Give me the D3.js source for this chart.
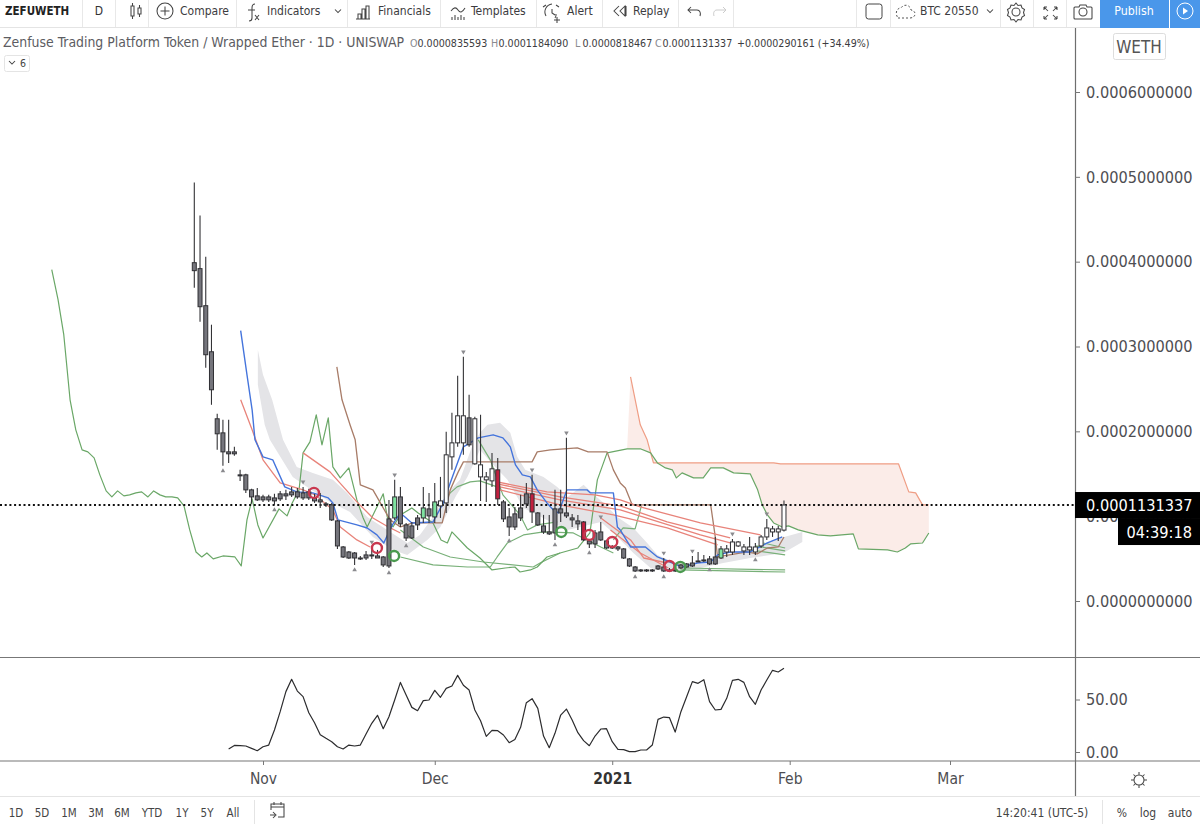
<!DOCTYPE html>
<html><head><meta charset="utf-8">
<script src="https://cdn.jsdelivr.net/npm/d3@7"></script>
<style>html,body{margin:0;padding:0;background:#fff;overflow:hidden}svg{display:block}text{font-family:"DejaVu Sans Condensed","DejaVu Sans",sans-serif}</style>
</head><body><svg id="c" width="1200" height="826"></svg>
<script>
// Prices are in units of 0.0001 WETH. Bars are daily, bar 0 = 20 Oct 2020.
const candleOpen=[3.988,3.918,3.481,2.938,2.148,1.982,1.758,1.758,1.487,1.487,1.310,1.239,1.227,1.227,1.215,1.263,1.263,1.286,1.286,1.274,1.286,1.215,1.192,1.145,1.133,.944,.637,.578,.566,.507,.543,.543,.531,.519,.968,.979,1.227,.897,.885,.979,.979,1.086,.991,1.121,1.156,1.699,1.864,1.864,2.159,1.617,1.463,1.428,1.416,1.546,1.168,.991,1.027,1.097,1.263,1.263,1.038,.885,.814,1.086,1.086,1.038,.979,.944,.932,.708,.802,.814,.708,.637,.637,.614,.496,.401,.366,.366,.366,.413,.401,.366,.366,.425,.437,.448,.472,.484,.496,.519,.507,.578,.578,.649,.590,.602,.578,.649,.755,.814,.814,.8356];
const candleClose=[3.894,3.469,2.903,2.490,1.971,1.758,1.735,1.735,1.475,1.310,1.227,1.192,1.192,1.192,1.180,1.204,1.239,1.251,1.227,1.215,1.215,1.180,1.168,1.133,.956,.649,.519,.507,.507,.496,.507,.531,.507,.425,.413,1.227,.909,.743,.743,.897,1.097,1.003,1.168,1.180,1.723,1.864,2.183,2.183,1.841,2.148,1.605,1.463,1.558,1.204,.968,.873,.873,.979,1.145,1.050,.897,.814,.791,.802,1.038,1.003,.956,.909,.720,.673,.673,.720,.625,.625,.614,.507,.413,.354,.354,.354,.354,.378,.354,.354,.354,.389,.401,.413,.460,.472,.437,.437,.614,.614,.696,.696,.637,.637,.637,.755,.861,.850,.850,1.131337];
const candleHigh=[4.932,4.543,4.059,3.257,2.207,2.136,2.136,1.817,1.546,1.499,1.322,1.333,1.251,1.251,1.263,1.298,1.310,1.345,1.333,1.345,1.322,1.263,1.274,1.168,1.156,.956,.649,.590,.578,.531,.590,.637,.602,.531,1.192,1.428,1.345,.920,.932,1.015,1.345,1.274,1.392,1.463,1.994,2.218,2.655,2.879,2.431,2.171,2.195,1.522,1.746,1.687,1.192,1.097,1.109,1.251,1.392,1.487,1.050,1.015,1.015,1.310,1.310,1.923,1.027,1.015,.944,.732,.838,.932,.720,.661,.649,.625,.507,.413,.378,.378,.378,.425,.507,.389,.378,.437,.448,.531,.578,.543,.531,.755,.649,.661,.732,.708,.673,.755,.684,.779,.968,.885,.885,1.18409];
const candleLow=[3.693,3.292,2.749,2.313,1.782,1.593,1.628,1.711,1.416,1.274,1.145,1.180,1.168,1.168,1.133,1.180,1.192,1.227,1.204,1.192,1.192,1.156,1.097,1.109,.944,.614,.507,.496,.425,.484,.484,.496,.507,.401,.389,.956,.873,.708,.732,.838,.920,.920,.920,.979,1.038,1.546,1.817,1.723,1.817,1.605,1.180,1.168,1.345,1.133,.932,.767,.838,.944,1.097,.920,.885,.791,.779,.720,.932,.979,.873,.838,.708,.625,.625,.708,.614,.614,.590,.496,.401,.342,.342,.342,.342,.366,.342,.342,.342,.378,.389,.401,.460,.460,.425,.425,.496,.519,.543,.637,.543,.543,.543,.625,.720,.755,.708,.818467];
const greenBars=[35,40,42,92];
const redBars=[53,59,68];
const fractalAbove=[19,31,35,47,59,65,71,82,87,94,100];
const fractalBelow=[5,14,28,34,37,55,63,69,77,82,90,98];

const laggingBar=[-24.9,-23.8,-22.8,-21.7,-20.7,-19.6,-18.6,-17.5,-16.5,-15.4,-14.4,-13.4,-12.3,-11.3,-10.2,-9.2,-8.1,-7.1,-6,-5,-3.9,-2.9,-1.8,-.8,.3,1.3,2.2,3.3,5,7.1,8.2,9.2,10.1,11.1,12,14.8,16.2,17.1,18.3,19,20.2,21.3,22.3,23.4,24.2,25.5,27,28.4,29.5,30.2,31.9,33,33.7,34.7,36,38,39.1,41.7,43.1,44.2,45,47.7,49.9,52,54.3,56,56.9,58.7,59.9,61.6,63.9,67,69.1,70.4,72.1,75.6,77.9,79.7,80.9,82.3,83.5,84.2,85.2,87.2,88.9,90.2,92.4,94.2,97.1,98.4,99.2,100.1,101.2,102.7,103.8,105.5,108.9,111.1,115.1,116,121.1,122.8,124.2,125.1,127.2,128.3];
const laggingVal=[3.906,3.552,3.139,2.372,2.018,1.782,1.758,1.687,1.487,1.298,1.227,1.298,1.239,1.251,1.274,1.286,1.227,1.298,1.251,1.227,1.227,1.215,1.121,.838,.578,.519,.566,.496,.531,.519,.413,.956,1.204,.897,.743,1.086,1.003,1.156,1.310,1.746,1.876,2.195,1.841,2.159,1.581,1.451,1.569,1.192,.979,.873,1.109,1.263,.991,.873,1.015,1.097,1.038,.920,.720,.684,.814,.625,.507,.366,.389,.401,.342,.366,.401,.519,.566,.625,.802,1.428,1.746,1.794,1.794,1.746,1.628,1.569,1.546,1.451,1.510,1.451,1.451,1.569,1.569,1.510,1.499,1.310,1.133,1.015,.920,.873,.885,.838,.779,.767,.791,.614,.602,.578,.625,.673,.684,.802];
const spanBar=[76.2,77.9,79.1,80.2,101.2,102.4,123,124.8,126,127.2,128.3];
const spanVal=[2.643,2.077,1.900,1.628,1.628,1.617,1.617,1.286,1.274,1.133,1.133];

const bandTopBar=[11.1,12,13.6,15.5,17.9,20.7,24.2,26.7,30.2,33.7,37.2,39.4,41.7,44.2,46.4,48.5,49.9,51.2,53.4,55.2,56.4,57.8,61,63.4,65.2,68,69.5,71.5,73.9,76.7,79.1,80.9,83.7,86.7,90.2,94.2,97.1,102.4,106.2];
const bandTopVal=[2.962,2.667,2.372,1.900,1.581,1.510,1.428,1.274,.991,.838,.684,.779,.991,1.274,1.428,1.817,1.982,2.077,2.100,1.982,1.699,1.546,1.463,1.345,1.227,1.369,1.274,1.156,.991,.861,.684,.543,.460,.425,.448,.566,.625,.743,.814];
const bandLowBar=[11.1,12.3,13.2,17.2,19.7,23.7,27.2,31.2,34.7,37.2,40.7,43,45.6,47.7,49.9,51.7,54.7,57.5,59.2,61.6,65.2,71,73.2,76.7,79.7,82.6,88.4,92.4,97.1,102.9,106.2];
const bandLowVal=[2.549,2.077,1.900,1.463,1.345,1.168,1.050,.755,.602,.543,.720,.873,1.227,1.463,1.782,1.640,1.428,1.097,1.038,.956,.838,.932,.802,.566,.389,.342,.389,.448,.507,.566,.696];

const blueBar=[8.1,9.2,10.1,10.6,12,13.7,15.8,17.9,20.7,23.4,24.2,25.1,28.4,30.2,31.9,33.1,33.9,34.6,36,38,41.7,43.5,44.7,47,49.6,52.2,53.9,55.2,56.1,57.3,58.7,59.9,61.6,62.7,63.6,65.1,68.6,69.2,73.2,73.9,74.4,76.2,78.8,80.9,83.1,85.2,87.9,90.2,91.4,93.6,97.1,100.1,102.7];
const blueVal=[3.186,2.667,2.254,1.900,1.699,1.664,1.345,1.286,1.274,1.215,1.156,.956,.897,.861,.779,.684,.802,.897,1.038,.920,.932,1.156,1.392,1.817,1.923,1.959,1.923,1.817,1.605,1.487,1.463,1.310,1.156,1.074,1.038,1.310,1.310,1.274,1.274,.873,.838,.637,.637,.519,.460,.401,.448,.460,.543,.578,.578,.684,.755];
const brownBar=[24.9,25.8,27.2,28.1,29,31.2,32.5,34.2,36,38.2,43.3,44.7,46.1,47,59,59.9,62.2,66.9,68.8,72.1,73.2,74.4,75.3,76.5,90.2,91,91.4,96.6,98.3,100.1,102,103];
const brownVal=[2.761,2.372,2.077,1.900,1.369,1.310,1.156,.956,.873,.920,.920,1.310,1.522,1.640,1.640,1.758,1.782,1.805,1.758,1.758,1.546,1.392,1.333,1.133,1.133,.755,.519,.578,.555,.625,.637,.755];

const redSeries=[
 {bars:[8.1,10.1,12,15,19,21.1,24.2,25.5,28.4,30.7],vals:[2.372,2.018,1.664,1.392,1.310,1.251,1.074,.873,.720,.637]},
 {bars:[19,23.7,28.4,31.2,33.9,36],vals:[1.746,1.522,1.168,.979,.873,.802]},
 {bars:[52.9,61.6,70,74.4,77.9,88.4,98.9],vals:[1.404,1.286,1.251,1.192,1.109,.920,.779]},
 {bars:[52.9,63.9,74.4,82.6,93.6],vals:[1.381,1.227,1.121,.932,.743]},
 {bars:[53.4,63.9,74.4,88.4,93.6],vals:[1.345,1.192,1.074,.779,.684]},
 {bars:[53.4,63.9,73.2,82.6,91.4],vals:[1.310,1.133,1.015,.861,.661]},
 {bars:[71,76.2,78.5,82.6],vals:[.979,.720,.507,.448]},
 {bars:[72.7,77.9,82.8],vals:[.838,.566,.389]}
];
const greenSeries=[
 {bars:[36,40,44.7,50.5,59.2,60.4,63.9],vals:[.838,.637,.519,.460,.401,.448,.566]},
 {bars:[36,41.7,47.7,51.7,52.9,54.7,57.5,61,66.2,68.6,71,73.2],vals:[.519,.425,.401,.401,.519,.684,.779,.814,.802,.720,.637,.566]},
 {bars:[43.3,44.7,45.9,48.2,49.9,52.9],vals:[1.133,1.274,1.345,1.404,1.416,1.345]},
 {bars:[49.6,51.7,53.9,56.9,58.2,59.9,63.4],vals:[1.900,1.664,1.251,1.015,.838,.897,.932]},
 {bars:[73.2,74.9,77,78.1],vals:[.720,.861,.850,1.121]},
 {bars:[85.5,103.2],vals:[.389,.366]},
 {bars:[84.9,103.2],vals:[.366,.342]},
 {bars:[97.1,103.2],vals:[.602,.543]},
 {bars:[98,103.2],vals:[.649,.590]},
 {bars:[99.4,103.2],vals:[.684,.625]}
];
const redCircleBar=[20.9,31.9,69,73,83], redCircleVal=[1.274,.625,.779,.696,.413];
const greenCircleBar=[34.9,64.1,84.9], greenCircleVal=[.531,.814,.401];

const oscStartBar=6;
const oscVal=[2.9,6.3,6,5.7,3.5,1.2,5,6.6,21,38.4,57.5,69.2,58,52.7,37.4,27.9,16.5,13,9.8,5,2.9,6.6,5.7,6.6,17.1,27.3,34.9,22.2,33.6,49.5,66.3,54.3,42.5,39.3,48.9,49.5,58.7,52.1,60.6,62.8,73,63.5,59,40,29.8,14.9,20.6,20.3,16.2,8.9,12,23.5,47,50.8,41.6,15.2,4.1,17.8,35.2,40.9,30.5,18.4,10.8,6,15.2,21.9,22.2,9.8,2.5,2.2,.3,.3,1.9,1.9,6.6,31.1,33.3,32.7,19,38.4,52.7,67,65.4,68.9,47.9,40,40.6,51.1,68.2,69.2,66.3,52.7,45.4,59,68.6,77.8,76.2,79.7];

const priceTicks=[0,.0001,.0002,.0003,.0004,.0005,.0006];
const oscTicks=[0,50];
const timeTicks=[new Date(Date.UTC(2020,10,1)),new Date(Date.UTC(2020,11,1)),new Date(Date.UTC(2021,0,1)),new Date(Date.UTC(2021,1,1)),new Date(Date.UTC(2021,2,1))];
const timeLabels=["Nov","Dec","2021","Feb","Mar"];
const lastPrice=.0001131337;

const svg=d3.select("#c");
const ink="#4e4e52", axisCol="#777";
const day0=Date.UTC(2020,9,20);
const bd=i=>new Date(day0+i*864e5);
const x=d3.scaleUtc().domain([timeTicks[0],timeTicks[4]]).range([263,950]);
const y=d3.scaleLinear().domain([0,.0006]).range([601,92]);
const yo=d3.scaleLinear().domain([0,50]).range([752,699.5]);
const X=i=>x(bd(i)), Y=v=>y(v*1e-4);
const zip=(b,v)=>b.map((d,i)=>[X(d),Y(v[i])]);
const line=d3.line();

// cloud
const greenStart=laggingBar.findIndex(b=>b>=75.6);
const cloudLow=zip(laggingBar.slice(greenStart),laggingVal.slice(greenStart)).reverse();
svg.append("path").attr("d",line(zip(spanBar,spanVal).concat(cloudLow))+"Z").attr("fill","#fbece8");
// gray band
svg.append("path").attr("d",line(zip(bandTopBar,bandTopVal).concat(zip(bandLowBar,bandLowVal).reverse()))+"Z").attr("fill","#e4e4e7");

const stroke=(pts,col,w)=>svg.append("path").attr("d",line(pts)).attr("fill","none").attr("stroke",col).attr("stroke-width",w||1).attr("stroke-linejoin","round");
stroke(zip(spanBar,spanVal),"#ef9d84",1.2);
greenSeries.forEach(s=>stroke(zip(s.bars,s.vals),"#78b078",1.2));
stroke(zip(laggingBar,laggingVal),"#6aa767",1.2);
stroke(zip(brownBar,brownVal),"#a87c68",1.3);
redSeries.forEach(s=>stroke(zip(s.bars,s.vals),"#e8837a",1.3));
stroke(zip(blueBar,blueVal),"#4474dc",1.4);

// dotted last-price line
svg.append("line").attr("x1",0).attr("x2",1075).attr("y1",y(lastPrice)).attr("y2",y(lastPrice)).attr("stroke","#111").attr("stroke-width",2).attr("stroke-dasharray","2 2.7");

// candles
const idx=d3.range(candleOpen.length);
const g=svg.append("g");
g.selectAll("line").data(idx).join("line").attr("x1",X).attr("x2",X).attr("y1",i=>Y(candleHigh[i])).attr("y2",i=>Y(candleLow[i])).attr("stroke","#333336").attr("stroke-width",1.1);
g.selectAll("rect").data(idx).join("rect")
 .attr("x",i=>X(i)-2).attr("width",4)
 .attr("y",i=>Y(Math.max(candleOpen[i],candleClose[i])))
 .attr("height",i=>Math.max(1,Math.abs(Y(candleOpen[i])-Y(candleClose[i]))))
 .attr("stroke","#2f2f33").attr("stroke-width",1)
 .attr("fill",i=>greenBars.includes(i)?"#7fe3a0":redBars.includes(i)?"#c2203f":candleClose[i]>=candleOpen[i]?"#fff":"#75757c");

// fractal markers
const tri=d3.symbol().type(d3.symbolTriangle).size(9)();
svg.selectAll(".fa").data(fractalAbove).join("path").attr("d",tri).attr("fill","#8a8a8e").attr("transform",i=>`translate(${X(i)},${Y(candleHigh[i])-5}) rotate(180)`);
svg.selectAll(".fb").data(fractalBelow).join("path").attr("d",tri).attr("fill","#8a8a8e").attr("transform",i=>`translate(${X(i)},${Y(candleLow[i])+5})`);

// circles
const circ=(b,v,col)=>b.forEach((d,i)=>svg.append("circle").attr("cx",X(d)).attr("cy",Y(v[i])).attr("r",5).attr("fill","none").attr("stroke",col).attr("stroke-width",2.4));
circ(redCircleBar,redCircleVal,"#c9384f");
circ(greenCircleBar,greenCircleVal,"#4b9a4f");

// oscillator
stroke(oscVal.map((v,i)=>[X(oscStartBar+i),yo(v)]),"#2c2c2e",1.2);

// frame
const rule=(x1,y1,x2,y2,c,w)=>svg.append("line").attr("x1",x1).attr("y1",y1).attr("x2",x2).attr("y2",y2).attr("stroke",c).attr("stroke-width",w||1);
rule(0,657.5,1200,657.5,axisCol,1.2);rule(0,761,1200,761,axisCol,1.2);rule(1075.5,28,1075.5,796,"#6e6e6e",1.2);
rule(0,796.5,1200,796.5,"#e4e4e4");rule(0,27.5,1100,27.5,"#e4e4e4");

// axes
function sty(a,size,col){a.select(".domain").remove();a.selectAll("line").attr("stroke",axisCol);a.selectAll("text").attr("fill",col||ink).style("font-family",'"DejaVu Sans Condensed","DejaVu Sans",sans-serif').style("font-size",size+"px");}
const ay=svg.append("g").attr("transform","translate(1075,0)").call(d3.axisRight(y).tickValues(priceTicks).tickSize(5).tickPadding(6).tickFormat(d=>d.toFixed(10)));sty(ay,16.2);
const ao=svg.append("g").attr("transform","translate(1075,0)").call(d3.axisRight(yo).tickValues(oscTicks).tickSize(5).tickPadding(6).tickFormat(d=>d.toFixed(2)));sty(ao,16.2);
const at=svg.append("g").attr("transform","translate(0,761)").call(d3.axisBottom(x).tickValues(timeTicks).tickSize(4).tickPadding(8).tickFormat((d,i)=>timeLabels[i]));sty(at,15.5);
at.selectAll("text").filter((d,i)=>i==2).attr("font-weight","bold").attr("fill","#333");

// price labels
svg.append("rect").attr("x",1075).attr("y",y(lastPrice)-13).attr("width",125).attr("height",26).attr("fill","#000");
svg.append("rect").attr("x",1118).attr("y",y(lastPrice)+13).attr("width",82).attr("height",27).attr("fill","#000");
const T=(s,px,py,size,col,opt={})=>{const t=svg.append("text").attr("x",px).attr("y",py).attr("dy",".35em").attr("font-size",size).attr("fill",col||ink).text(s);
 if(opt.anchor)t.attr("text-anchor",opt.anchor);if(opt.weight)t.attr("font-weight",opt.weight);return t;};
T(lastPrice.toFixed(10),1086,y(lastPrice),16.2,"#fff");
T("04:39:18",1192,y(lastPrice)+27,16.2,"#fff",{anchor:"end"});

// toolbar
const seps=[82,115,148,236,347,440,536,602,678,733,856,890,1000,1033,1066];
seps.forEach(s=>rule(s+.5,0,s+.5,27,"#e8e8e8"));
T("ZEFUWETH",5,10.5,11.5,"#222",{weight:"bold"});
T("D",99,10.5,12,"#333",{anchor:"middle"});
[["Compare",180],["Indicators",267],["Financials",378],["Templates",471],["Alert",567],["Replay",633]].forEach(d=>T(d[0],d[1],10.5,12,"#3c3c40"));
T("BTC 20550",920,11,12,"#3c3c40");
svg.append("rect").attr("x",1100).attr("y",0).attr("width",69).attr("height",28).attr("fill","#4a97ea");
svg.append("rect").attr("x",1170).attr("y",0).attr("width",30).attr("height",28).attr("fill","#4a97ea");
T("Publish",1134,11,12.3,"#fff",{anchor:"middle"});
const ic=d=>svg.append("path").attr("d",d).attr("fill","none").attr("stroke","#444").attr("stroke-width",1.05);
ic("M131 6v10h3V6zM132.5 3v3M132.5 16v3M138 8v6h3V8zM139.5 5v3M139.5 14v3");
ic("M173 11a8 8 0 1 1-16 0a8 8 0 1 1 16 0M165 6.5v9M160.5 11h9");
ic("M255 4c-3 0-3 2-3 4v10c0 2-1 3-3 3M248 10h7M255 15l4 5M259 15l-4 5");
ic("M335 9.500l3 3 3-3"); ic("M356 19h14M358 19v-5h3v5M362 19v-10h3v10M366 19v-13h3v13");
ic("M451 11c3-4 5-4 7-1s4 3 7-2M452 20v-3M455 20v-5M458 20v-3M461 20v-5M464 20v-3");
ic("M552 4a8 8 0 0 0-6 12M546 5l-3 2M556 5l3 2M552 9v4l3 2M556 14a5 5 0 0 1-1 4M557 17v6M554 20h6");
ic("M619 6l-5 5 5 5M625 6l-5 5 5 5zM626 6v10");
ic("M688 10h9c3 0 4 3 3 6M691 7l-3 3 3 3"); svg.append("path").attr("d","M726 10h-9c-3 0-4 3-3 6M723 7l3 3-3 3").attr("fill","none").attr("stroke","#ccc");
svg.append("rect").attr("x",866).attr("y",4).attr("width",16).attr("height",15).attr("rx",2.5).attr("fill","none").attr("stroke","#444");
svg.append("path").attr("d","M898 18h12c6 0 7-7 1-8c-1-6-8-6-10-2c-5 0-6 6-3 10").attr("fill","none").attr("stroke","#555").attr("stroke-dasharray","2 2");
ic("M987 9.500l3 3 3-3");
ic("M1016 3l2 2.5 3-.5 1 3 2.500 1.500-1 3 1 3-2.500 1.500-1 3-3-.5-2 2.500-2-2.500-3 .5-1-3-2.500-1.500 1-3-1-3 2.500-1.500 1-3 3 .5zM1020 12a4 4 0 1 1-8 0a4 4 0 1 1 8 0");
ic("M1044 7l4 4M1044 7h3M1044 7v3M1057 7l-4 4M1057 7h-3M1057 7v3M1044 19l4-4M1044 19h3M1044 19v-3M1057 19l-4-4M1057 19h-3M1057 19v-3");
ic("M1075 7h4l1-2h6l1 2h4a1 1 0 0 1 1 1v10a1 1 0 0 1-1 1h-16a1 1 0 0 1-1-1v-10a1 1 0 0 1 1-1zM1087 12a4 4 0 1 1-8 0a4 4 0 1 1 8 0");
svg.append("circle").attr("cx",1185).attr("cy",11).attr("r",8).attr("fill","none").attr("stroke","#fff");
svg.append("path").attr("d","M1183 7.500l5 3.500-5 3.500z").attr("fill","#fff");

// legend
T("Zenfuse Trading Platform Token / Wrapped Ether · 1D · UNISWAP",3,42,13.9,"#5c5c62");
[["O","0.0000835593",410],["H","0.0001184090",491],["L","0.0000818467",575],["C","0.0001131337",655]].forEach(d=>{
 T(d[0],d[2],43,10.6,"#8a8a90");T(d[1],d[2]+7.5,43,10.6,"#3c3c40");});
T("+0.0000290161 (+34.49%)",737,43,10.6,"#3c3c40");
svg.append("rect").attr("x",4.5).attr("y",55.5).attr("width",25).attr("height",16).attr("rx",2).attr("fill","#fff").attr("stroke","#e4e4e4");
ic("M9 61l3 3 3-3"); T("6",20,63,10.5,"#444");
svg.append("rect").attr("x",1113.500).attr("y",33.500).attr("width",52).attr("height",26).attr("rx",2).attr("fill","#fff").attr("stroke","#ddd");
T("WETH",1139,47,17,"#555",{anchor:"middle"});

// bottom bar
[["1D",16],["5D",42],["1M",69],["3M",96],["6M",122],["YTD",152],["1Y",182],["5Y",207],["All",233]].forEach(d=>T(d[0],d[1],813,11.500,"#444",{anchor:"middle"}));
rule(254.5,800,254.5,824,"#e4e4e4");rule(1102.5,800,1102.5,824,"#e4e4e4");
ic("M271 810v-6h13v13h-6M271 807h13M274 802v3M281 802v3M270 815h5M273 812l3 3-3 3");
T("14:20:41 (UTC-5)",1042,813,12,"#444",{anchor:"middle"});
T("%",1122,813,12,"#444",{anchor:"middle"});T("log",1148,813,12,"#444",{anchor:"middle"});T("auto",1180,813,12,"#444",{anchor:"middle"});
ic("M1144 780a5 5 0 1 1-10 0a5 5 0 1 1 10 0M1139 772v3M1139 785v3M1131 780h3M1144 780h3M1133.500 774.500l2 2M1142.500 783.500l2 2M1133.500 785.500l2-2M1142.500 776.500l2-2");
</script></body></html>
